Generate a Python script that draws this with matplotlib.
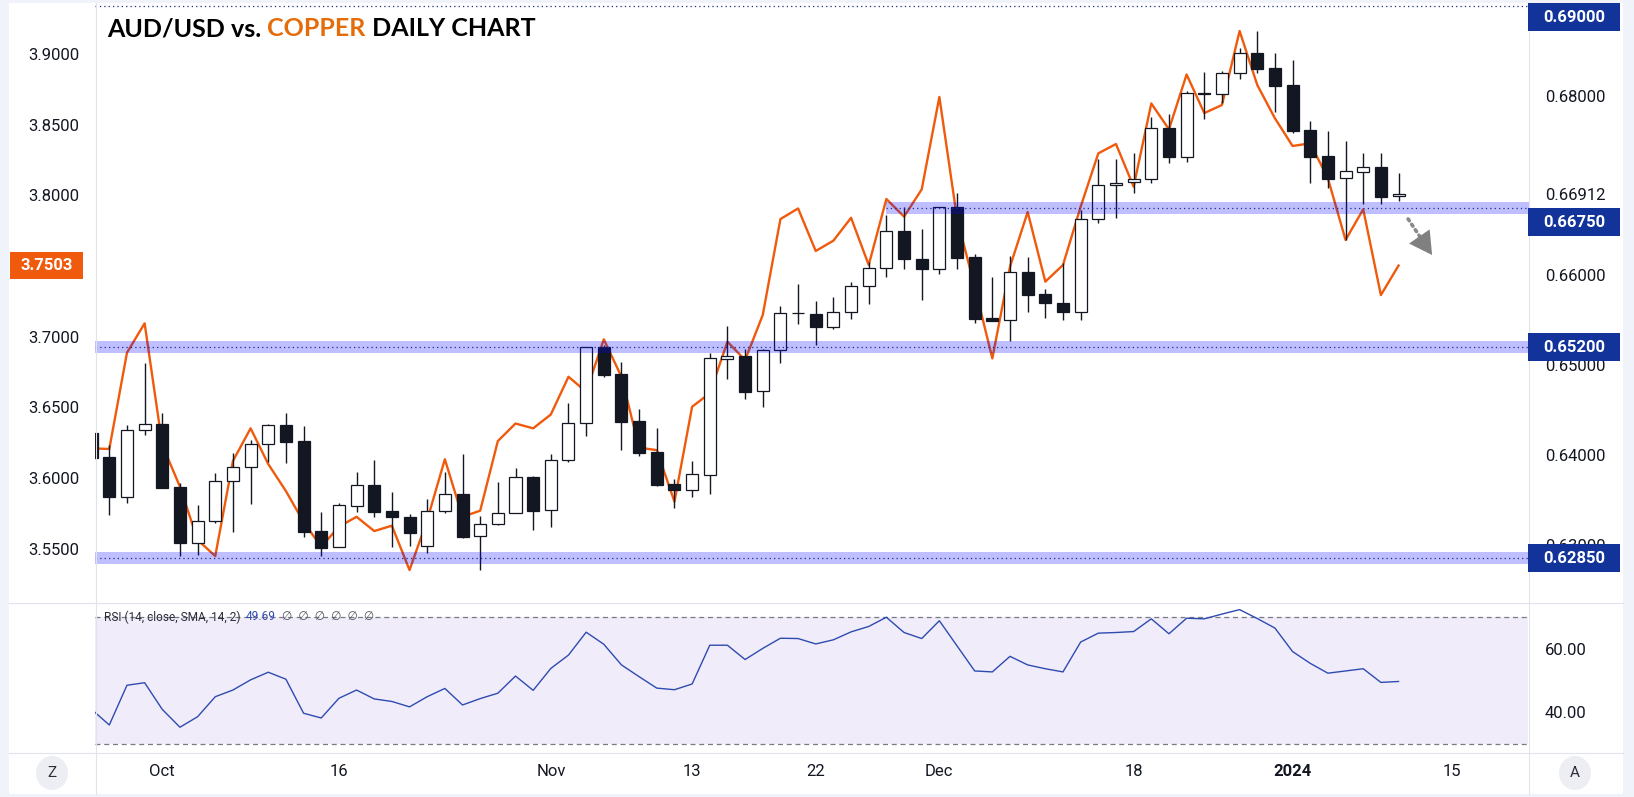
import matplotlib
matplotlib.use('Agg')
import matplotlib.pyplot as plt
from matplotlib.patches import Rectangle, Ellipse
from matplotlib.lines import Line2D
from matplotlib.transforms import IdentityTransform
import pandas as pd

# Velas diarias AUD/USD, del 26-sep-2023 al 10-ene-2024
aud_apertura = [0.64242, 0.63974, 0.63535, 0.64275, 0.64342, 0.63640, 0.63023, 0.63261, 0.63707, 0.63863,
                0.64119, 0.64331, 0.64153, 0.63150, 0.62971, 0.63435, 0.63662, 0.63373, 0.63306, 0.62983,
                0.63373, 0.63562, 0.63094, 0.63228, 0.63350, 0.63752, 0.63384, 0.63941, 0.64353, 0.65200,
                0.64903, 0.64379, 0.64034, 0.63677, 0.63613, 0.63781, 0.65073, 0.65103, 0.64710, 0.65167,
                0.65579, 0.65568, 0.65429, 0.65590, 0.65880, 0.66080, 0.66492, 0.66181, 0.66069, 0.66760,
                0.66203, 0.65523, 0.65501, 0.66036, 0.65790, 0.65690, 0.65597, 0.66626, 0.67005, 0.67038,
                0.67072, 0.67640, 0.67317, 0.68030, 0.68019, 0.68253, 0.68476, 0.68309, 0.68119, 0.67618,
                0.67331, 0.67083, 0.67150, 0.67206, 0.66882]
aud_maximo = [0.64278, 0.64111, 0.64334, 0.65022, 0.64465, 0.63685, 0.63440, 0.63796, 0.64019, 0.64167,
              0.64342, 0.64465, 0.64323, 0.63362, 0.63462, 0.63811, 0.63944, 0.63584, 0.63343, 0.63510,
              0.63811, 0.64011, 0.63320, 0.63699, 0.63855, 0.63766, 0.64011, 0.64576, 0.65200, 0.65226,
              0.65036, 0.64512, 0.64301, 0.63729, 0.63936, 0.65140, 0.65441, 0.65178, 0.65178, 0.65660,
              0.65905, 0.65716, 0.65760, 0.65928, 0.66150, 0.66674, 0.66767, 0.66515, 0.66767, 0.66916,
              0.66236, 0.65983, 0.66217, 0.66203, 0.65846, 0.66136, 0.66730, 0.67295, 0.67295, 0.67362,
              0.67763, 0.67799, 0.68056, 0.68267, 0.68275, 0.68531, 0.68724, 0.68476, 0.68398, 0.67718,
              0.67607, 0.67495, 0.67362, 0.67362, 0.67139]
aud_minimo = [0.63944, 0.63332, 0.63469, 0.64223, 0.63636, 0.62875, 0.62886, 0.63239, 0.63145, 0.63451,
              0.63925, 0.63908, 0.63090, 0.62875, 0.62971, 0.63368, 0.63306, 0.62978, 0.62989, 0.62912,
              0.63350, 0.63072, 0.62719, 0.63217, 0.63350, 0.63164, 0.63201, 0.63922, 0.64212, 0.64872,
              0.64056, 0.63989, 0.63655, 0.63406, 0.63535, 0.63565, 0.64847, 0.64624, 0.64535, 0.65028,
              0.65460, 0.65226, 0.65404, 0.65519, 0.65682, 0.65983, 0.66076, 0.65727, 0.66013, 0.66069,
              0.65467, 0.65496, 0.65274, 0.65597, 0.65523, 0.65504, 0.65504, 0.66582, 0.66644, 0.66923,
              0.67027, 0.67257, 0.67268, 0.67747, 0.67919, 0.68189, 0.68260, 0.67825, 0.67591, 0.67034,
              0.66978, 0.66396, 0.66793, 0.66793, 0.66827]
aud_cierre = [0.63970, 0.63535, 0.64275, 0.64342, 0.63636, 0.63023, 0.63261, 0.63707, 0.63863, 0.64119,
              0.64331, 0.64148, 0.63145, 0.62967, 0.63440, 0.63662, 0.63368, 0.63306, 0.63134, 0.63373,
              0.63562, 0.63090, 0.63228, 0.63350, 0.63752, 0.63379, 0.63941, 0.64353, 0.65200, 0.64895,
              0.64371, 0.64026, 0.63669, 0.63613, 0.63785, 0.65077, 0.65103, 0.64702, 0.65167, 0.65579,
              0.65579, 0.65429, 0.65590, 0.65880, 0.66080, 0.66492, 0.66181, 0.66069, 0.66767, 0.66198,
              0.65519, 0.65496, 0.66036, 0.65786, 0.65690, 0.65597, 0.66626, 0.67005, 0.67034, 0.67072,
              0.67640, 0.67317, 0.68030, 0.68019, 0.68253, 0.68476, 0.68304, 0.68115, 0.67613, 0.67324,
              0.67079, 0.67161, 0.67206, 0.66878, 0.66912]
# Cobre (cierre diario, escala izquierda)
cobre = [3.6209, 3.6205, 3.6886, 3.7094, 3.6233, 3.5938, 3.5561, 3.5447, 3.6120, 3.6351,
         3.6098, 3.5907, 3.5688, 3.5513, 3.5655, 3.5725, 3.5624, 3.5662, 3.5348, 3.5702,
         3.6132, 3.5725, 3.5768, 3.6261, 3.6385, 3.6351, 3.6449, 3.6716, 3.6610, 3.6981,
         3.6716, 3.6214, 3.6197, 3.5832, 3.6504, 3.6599, 3.6964, 3.6834, 3.7153, 3.7832,
         3.7907, 3.7606, 3.7679, 3.7841, 3.7507, 3.7974, 3.7849, 3.8042, 3.8696, 3.7837,
         3.7353, 3.6846, 3.7495, 3.7882, 3.7389, 3.7507, 3.7919, 3.8297, 3.8363, 3.8061,
         3.8650, 3.8467, 3.8855, 3.8582, 3.8639, 3.9163, 3.8781, 3.8545, 3.8349, 3.8368,
         3.8120, 3.7684, 3.7901, 3.7294, 3.7503]
# RSI (14)
rsi = [40.9, 36.0, 48.5, 49.3, 40.9, 35.3, 38.6, 44.9, 47.0, 50.2,
       52.6, 50.4, 39.7, 38.2, 44.4, 47.0, 44.2, 43.4, 41.7, 44.9,
       47.5, 42.3, 44.3, 46.0, 51.4, 46.9, 53.8, 58.0, 65.2, 61.4,
       54.9, 51.2, 47.6, 47.1, 48.9, 61.1, 61.1, 56.6, 60.1, 63.3,
       63.2, 61.5, 62.8, 65.3, 67.0, 69.9, 65.1, 63.2, 68.8, 60.9,
       53.0, 52.7, 57.6, 54.9, 53.7, 52.7, 62.1, 64.9, 65.1, 65.4,
       69.4, 64.7, 69.6, 69.4, 70.9, 72.3, 69.5, 66.5, 59.1, 55.4,
       52.3, 53.0, 53.7, 49.4, 49.69]

# Dias de mercado (sin 25-dic ni 1-ene)
festivos = ['2023-12-25', '2024-01-01']
dias = pd.bdate_range('2023-09-26', '2024-01-26')
dias = dias[~dias.isin(pd.to_datetime(festivos))]

fechas_eje = ['2023-10-02', '2023-10-16', '2023-11-01', '2023-11-13', '2023-11-22',
              '2023-12-01', '2023-12-18', '2024-01-02', '2024-01-15']
textos_eje = ['Oct', '16', 'Nov', '13', '22', 'Dec', '18', '2024', '15']

niveles = [0.6675, 0.6520, 0.6285]
inicio_niveles = ['2023-11-28', '2023-09-26', '2023-09-26']
nivel_techo = 0.69
# 3.7500 queda tapado por la etiqueta naranja del ultimo precio
cobre_ticks = [3.55, 3.60, 3.65, 3.70, 3.80, 3.85, 3.90]
aud_ticks = [0.63, 0.64, 0.65, 0.66, 0.66912, 0.68]

W, H = 1634, 797
oscuro = '#131722'
naranja = '#f05a0c'
azul = '#12349a'
fuente = ['Roboto', 'DejaVu Sans']

fig = plt.figure(figsize=(W / 100, H / 100), dpi=100)
fig.patch.set_facecolor('#f0f3fa')
fig.patches.append(Rectangle((9, 3), 1614, 791, transform=IdentityTransform(),
                             fc='white', ec='none', zorder=-1))

ax_cu = fig.add_axes([95 / W, 1 - 602 / H, 1433 / W, 600 / H])
ax_aud = ax_cu.twinx()
ax_rsi = fig.add_axes([95 / W, 1 - 752 / H, 1433 / W, 150 / H])
ax_cu.set_facecolor('none')
ax_rsi.set_facecolor('none')

x = list(range(len(aud_cierre)))
xlim = (0.19, 81.33)
for eje in (ax_cu, ax_aud, ax_rsi):
    eje.set_xlim(*xlim)
    for s in eje.spines.values():
        s.set_visible(False)
ax_cu.set_ylim(3.5122, 3.9368)
ax_aud.set_ylim(0.62362, 0.69047)
ax_rsi.set_ylim(27.5, 74.7)

# Linea del cobre
ax_cu.plot(x, cobre, color=naranja, lw=1.7, zorder=2)

# Velas
for i in x:
    o, h, l, c = aud_apertura[i], aud_maximo[i], aud_minimo[i], aud_cierre[i]
    ax_aud.vlines(i, l, h, color=oscuro, lw=1.0, zorder=2)
    ax_aud.add_patch(Rectangle((i - 0.34, min(o, c)), 0.68, abs(c - o),
                               fc='white' if c > o else oscuro, ec=oscuro, lw=0.9, zorder=3))

# Zonas de soporte/resistencia
for nivel, inicio in zip(niveles, inicio_niveles):
    x0 = dias.get_loc(pd.Timestamp(inicio))
    if x0 == 0:
        x0 = -2
    ax_aud.fill_between([x0, 90], nivel - 0.00067, nivel + 0.00067, color=(0, 0, 1), alpha=0.25, lw=0, zorder=5)
    ax_aud.hlines(nivel, x0, 90, color='#1c2a8c', lw=0.9, ls=(0, (1, 2.5)), zorder=6)
ax_aud.axhline(nivel_techo, color='#1c2a8c', lw=0.9, ls=(0, (1, 2.5)), zorder=6)

# Flecha punteada
ax_aud.plot([74.54, 75.45], [0.6663, 0.66362], color='#8a8a8a', lw=2.6, ls=(0, (0.6, 1.2)),
            solid_capstyle='round', dash_capstyle='round', zorder=6)
ax_aud.annotate('', xy=(75.9, 0.66228), xytext=(75.3, 0.66400),
                arrowprops=dict(arrowstyle='-|>,head_length=0.9,head_width=0.5', color='#808080',
                                lw=0, shrinkA=0, shrinkB=0, mutation_scale=18), zorder=6)

# Ejes de precios
ax_cu.set_yticks(cobre_ticks)
ax_cu.set_yticklabels([f'{v:.4f}' for v in cobre_ticks], family=fuente)
ax_cu.tick_params(axis='y', length=0, pad=11, labelsize=12, labelcolor=oscuro)
ax_cu.tick_params(axis='x', bottom=False, labelbottom=False)
ax_aud.set_yticks(aud_ticks)
ax_aud.set_yticklabels([f'{v:.5f}' for v in aud_ticks], family=fuente)
ax_aud.tick_params(axis='y', length=0, pad=12, labelsize=12, labelcolor=oscuro)

# Panel RSI
ax_rsi.axhspan(30, 70, color='#f0ecf9', lw=0, zorder=0)
for nivel in (70, 30):
    ax_rsi.axhline(nivel, color='#787b86', lw=0.9, ls=(0, (4, 3)), zorder=1)
ax_rsi.plot(x, rsi, color='#2e4bb0', lw=1.0, zorder=3)
ax_rsi.yaxis.tick_right()
ax_rsi.set_yticks([40, 60])
ax_rsi.set_yticklabels(['40.00', '60.00'], family=fuente)
ax_rsi.tick_params(axis='y', length=0, pad=12, labelsize=12, labelcolor=oscuro)
ax_rsi.set_xticks([dias.get_loc(pd.Timestamp(d)) for d in fechas_eje])
ax_rsi.set_xticklabels(textos_eje, family=fuente)
ax_rsi.tick_params(axis='x', length=0, pad=9, labelsize=12, labelcolor=oscuro)
for t in ax_rsi.get_xticklabels():
    if t.get_text() == '2024':
        t.set_fontweight('bold')

leyenda = ax_rsi.text(0.006, 70, 'RSI (14, close, SMA, 14, 2)', transform=ax_rsi.get_yaxis_transform(),
                      fontsize=8.6, family=fuente, color='#2a2e39', va='center', zorder=4)
fig.canvas.draw()
r = fig.canvas.get_renderer()
xx = leyenda.get_window_extent(r).x1 + 6
valor = fig.text(xx, H - 617, f'{rsi[-1]:.2f}', transform=IdentityTransform(), fontsize=8.6, family=fuente,
                 color='#2e4bb0', va='center')
xx = valor.get_window_extent(r).x1 + 6
fig.text(xx, H - 617, '\u2205  \u2205  \u2205  \u2205  \u2205  \u2205', transform=IdentityTransform(),
         fontsize=8.6, family=fuente, color='#50535e', va='center')


def etiqueta(eje, valor, texto, color, x_izq, ancho, alto, dy=0):
    y = eje.transData.transform((0, valor))[1] - dy
    fig.patches.append(Rectangle((x_izq, y - alto / 2), ancho, alto, transform=IdentityTransform(),
                                 fc=color, ec='none', zorder=3))
    fig.text(x_izq + ancho / 2, y, texto, transform=IdentityTransform(), color='white', fontsize=12,
             fontweight='bold', family=fuente, ha='center', va='center', zorder=4)


etiqueta(ax_aud, nivel_techo, '0.69000', azul, 1528, 92, 28, dy=11)
etiqueta(ax_aud, niveles[0], '0.66750', azul, 1528, 92, 28, dy=14)
etiqueta(ax_aud, niveles[1], '0.65200', azul, 1528, 92, 28)
etiqueta(ax_aud, niveles[2], '0.62850', azul, 1528, 92, 28)
etiqueta(ax_cu, cobre[-1], f'{cobre[-1]:.4f}', naranja, 10, 73, 27)

# Separadores
gris = '#e0e3eb'
for xs in (95.5, 1528.5):
    fig.add_artist(Line2D([xs, xs], [3, H - 3], transform=IdentityTransform(), color=gris, lw=0.8))
for ys in (602.5, 752.5):
    fig.add_artist(Line2D([9, 1623], [H - ys, H - ys], transform=IdentityTransform(), color=gris, lw=0.8))

# Botones Z y A
for bx, letra in ((52, 'Z'), (1575, 'A')):
    fig.patches.append(Ellipse((bx, H - 773), 32, 34, transform=IdentityTransform(), fc='#eceef3', ec='none'))
    fig.text(bx, H - 773, letra, transform=IdentityTransform(), fontsize=11, family=fuente,
             color='#2a2e39', ha='center', va='center')

# Titulo
xt = 107
for txt, col in [('AUD/USD vs. ', '#000000'), ('COPPER', '#e46c0a'), (' DAILY CHART', '#000000')]:
    t = fig.text(xt, H - 29, txt, transform=IdentityTransform(), color=col, fontsize=18,
                 fontweight='bold', family='Lato', ha='left', va='center')
    xt += t.get_window_extent(r).width

fig.savefig('out.png', dpi=100, facecolor=fig.get_facecolor())
